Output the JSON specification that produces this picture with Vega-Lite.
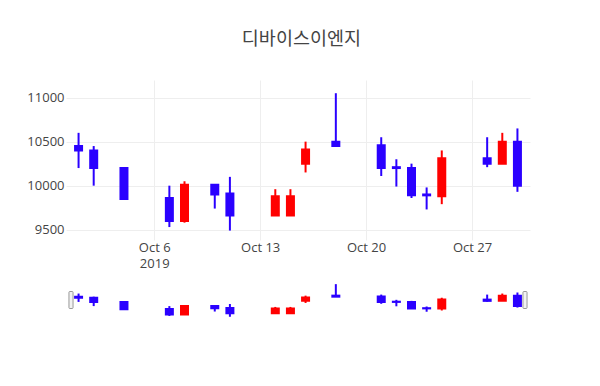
{
  "$schema": "https://vega.github.io/schema/vega-lite/v6.json",
  "background": "white",
  "padding": {"left": 26, "top": 29, "right": 60, "bottom": 10},
  "title": {"text": "디바이스이엔지", "font": "Noto Sans CJK KR", "fontSize": 18.5, "fontWeight": "normal", "color": "#444444", "anchor": "middle", "offset": 32, "dx": 23},
  "config": {"view": {"stroke": null}},
  "datasets": {
    "ohlc": [
      {"date": "2019-10-01", "open": 10450, "high": 10600, "low": 10200, "close": 10400},
      {"date": "2019-10-02", "open": 10400, "high": 10450, "low": 10000, "close": 10200},
      {"date": "2019-10-04", "open": 10200, "high": 10200, "low": 9850, "close": 9850},
      {"date": "2019-10-07", "open": 9860, "high": 10000, "low": 9530, "close": 9600},
      {"date": "2019-10-08", "open": 9600, "high": 10050, "low": 9580, "close": 10010},
      {"date": "2019-10-10", "open": 10010, "high": 10010, "low": 9740, "close": 9900},
      {"date": "2019-10-11", "open": 9910, "high": 10100, "low": 9490, "close": 9660},
      {"date": "2019-10-14", "open": 9660, "high": 9960, "low": 9660, "close": 9880},
      {"date": "2019-10-15", "open": 9660, "high": 9960, "low": 9660, "close": 9880},
      {"date": "2019-10-16", "open": 10250, "high": 10500, "low": 10150, "close": 10410},
      {"date": "2019-10-18", "open": 10500, "high": 11050, "low": 10450, "close": 10450},
      {"date": "2019-10-21", "open": 10460, "high": 10550, "low": 10110, "close": 10200},
      {"date": "2019-10-22", "open": 10210, "high": 10300, "low": 9990, "close": 10200},
      {"date": "2019-10-23", "open": 10200, "high": 10250, "low": 9860, "close": 9890},
      {"date": "2019-10-24", "open": 9900, "high": 9980, "low": 9730, "close": 9890},
      {"date": "2019-10-25", "open": 9880, "high": 10400, "low": 9790, "close": 10310},
      {"date": "2019-10-28", "open": 10310, "high": 10550, "low": 10210, "close": 10250},
      {"date": "2019-10-29", "open": 10250, "high": 10600, "low": 10250, "close": 10500},
      {"date": "2019-10-30", "open": 10500, "high": 10650, "low": 9930, "close": 10000}
    ],
    "handles": [
      {"date": "2019-09-30T12:00:00Z", "level": 10291},
      {"date": "2019-10-30T12:00:00Z", "level": 10291}
    ]
  },
  "spacing": 10,
  "vconcat": [
    {
      "width": 464,
      "height": 160,
      "data": {"name": "ohlc"},
      "encoding": {
        "x": {
          "field": "date", "type": "temporal",
          "scale": {"type": "utc", "domain": [{"year": 2019, "month": 9, "date": 30, "hours": 12, "utc": true}, {"year": 2019, "month": 10, "date": 30, "hours": 12, "utc": true}]},
          "axis": {
            "title": null, "domain": false, "ticks": false, "grid": true, "gridColor": "#eeeeee",
            "values": [{"year": 2019, "month": 10, "date": 6, "utc": true}, {"year": 2019, "month": 10, "date": 13, "utc": true}, {"year": 2019, "month": 10, "date": 20, "utc": true}, {"year": 2019, "month": 10, "date": 27, "utc": true}],
            "labelExpr": "utcdate(datum.value) == 6 ? [utcFormat(datum.value, '%b %-d'), '2019'] : utcFormat(datum.value, '%b %-d')",
            "labelFont": "Open Sans", "labelFontSize": 13, "labelColor": "#444444", "labelPadding": 1, "labelLineHeight": 16.5, "labelBaseline": "top"
          }
        },
        "color": {"condition": {"test": "datum.close >= datum.open", "value": "#ff0000"}, "value": "#2a00ff"}
      },
      "layer": [
        {
          "mark": {"type": "rule", "strokeWidth": 2},
          "encoding": {
            "y": {"field": "low", "type": "quantitative", "scale": {"domain": [9383, 11200], "nice": false, "zero": false},
              "axis": {"title": null, "domain": false, "ticks": false, "grid": true, "gridColor": "#eeeeee", "values": [9500, 10000, 10500, 11000], "format": "d", "labelFont": "Open Sans", "labelFontSize": 13, "labelColor": "#444444", "labelPadding": 2}},
            "y2": {"field": "high"}
          }
        },
        {
          "mark": {"type": "bar", "size": 7, "strokeWidth": 2},
          "encoding": {
            "y": {"field": "open", "type": "quantitative"},
            "y2": {"field": "close"},
            "stroke": {"condition": {"test": "datum.close >= datum.open", "value": "#ff0000"}, "value": "#2a00ff"}
          }
        }
      ]
    },
    {
      "width": 464,
      "height": 38,
      "encoding": {
        "x": {
          "field": "date", "type": "temporal",
          "scale": {"type": "utc", "domain": [{"year": 2019, "month": 9, "date": 30, "hours": 12, "utc": true}, {"year": 2019, "month": 10, "date": 30, "hours": 12, "utc": true}]},
          "axis": null
        }
      },
      "layer": [
        {
          "data": {"name": "ohlc"},
          "mark": {"type": "rule", "strokeWidth": 2},
          "encoding": {
            "y": {"field": "low", "type": "quantitative", "scale": {"domain": [9383, 11200], "nice": false, "zero": false}, "axis": null},
            "y2": {"field": "high"},
            "color": {"condition": {"test": "datum.close >= datum.open", "value": "#ff0000"}, "value": "#2a00ff"}
          }
        },
        {
          "data": {"name": "ohlc"},
          "mark": {"type": "bar", "size": 7, "strokeWidth": 2},
          "encoding": {
            "y": {"field": "open", "type": "quantitative"},
            "y2": {"field": "close"},
            "color": {"condition": {"test": "datum.close >= datum.open", "value": "#ff0000"}, "value": "#2a00ff"},
            "stroke": {"condition": {"test": "datum.close >= datum.open", "value": "#ff0000"}, "value": "#2a00ff"}
          }
        },
        {
          "data": {"name": "handles"},
          "mark": {"type": "point", "shape": "M-0.24,-0.9 Q-0.24,-1 -0.12,-1 L0.12,-1 Q0.24,-1 0.24,-0.9 L0.24,0.9 Q0.24,1 0.12,1 L-0.12,1 Q-0.24,1 -0.24,0.9 Z", "size": 289, "filled": true, "fill": "#f2f2f2", "stroke": "#999999", "strokeWidth": 1, "opacity": 1},
          "encoding": {
            "y": {"field": "level", "type": "quantitative"}
          }
        }
      ]
    }
  ]
}
